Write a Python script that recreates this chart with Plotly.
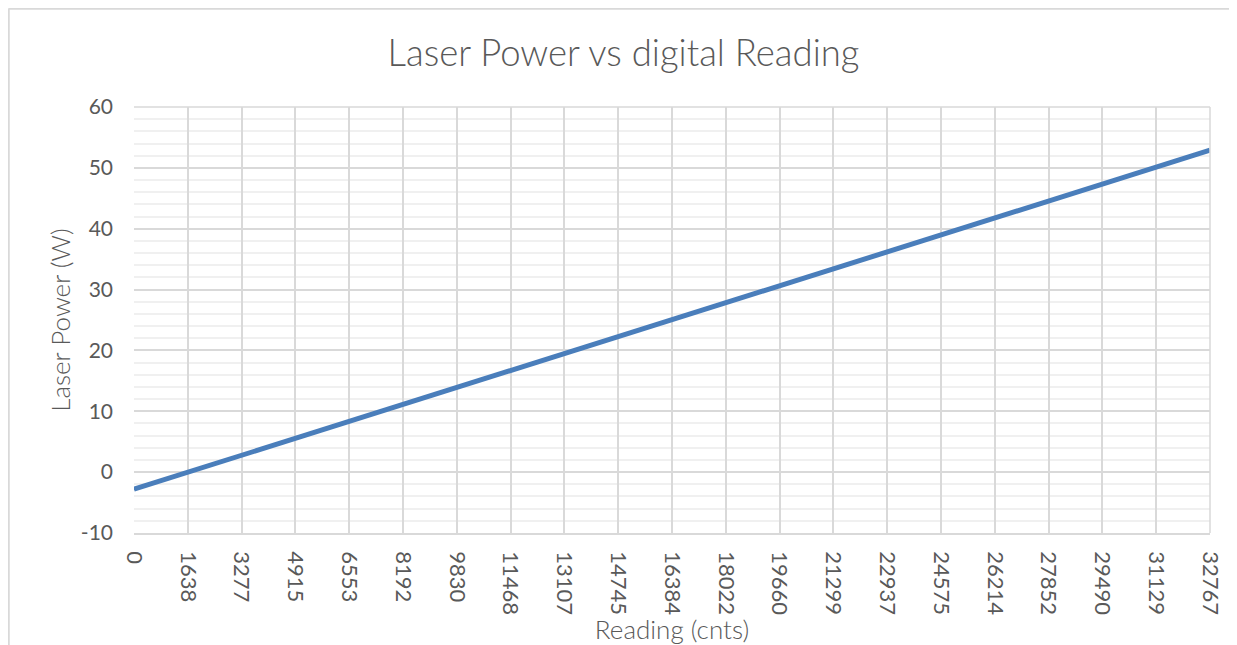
import plotly.graph_objects as go

reading = [0, 1638, 3277, 4915, 6553, 8192, 9830, 11468, 13107, 14745, 16384,
           18022, 19660, 21299, 22937, 24575, 26214, 27852, 29490, 31129, 32767]
power = [-2.8, -0.01, 2.77, 5.55, 8.34, 11.12, 13.91, 16.7, 19.48, 22.27, 25.05,
         27.84, 30.62, 33.41, 36.19, 38.98, 41.76, 44.55, 47.33, 50.12, 52.9]
tick_labels = [str(v) for v in reading]
y_ticks = [-10, 0, 10, 20, 30, 40, 50, 60]
y_labels = ["-10", "0", "10", "20", "30", "40", "50", "60"]

grey = "#595959"
font = "Lato, 'Open Sans', sans-serif"

# page has an 8px body margin: figure occupies page x 8..1237, y 8..645
W, H = 1229, 637
L, R, T, B = 126, 27, 99, 112
pw, ph = W - L - R, H - T - B

fig = go.Figure()
fig.add_trace(go.Scatter(x=reading, y=power, mode="lines",
                         line=dict(color="#4a7ebb", width=5), showlegend=False))

fig.update_layout(
    width=W, height=H,
    margin=dict(l=L, r=R, t=T, b=B, pad=0),
    paper_bgcolor="white", plot_bgcolor="white",
    font=dict(family=font, color=grey),
    title=dict(text="Laser Power vs digital Reading", x=(623.5 - 8 - L) / pw, xref="paper",
               xanchor="center", y=1 - (53 - 8) / H, yanchor="middle",
               font=dict(size=36.5, color=grey, family=font, weight=300)),
    xaxis=dict(range=[0, 32767], tickvals=reading, ticktext=tick_labels,
               tickangle=90, showgrid=True, gridcolor="#d9d9d9", gridwidth=1.5,
               showline=True, linecolor="#d9d9d9", linewidth=1.5, mirror=False,
               zeroline=False, ticks="", ticklabelstandoff=12,
               tickfont=dict(size=22, color=grey),
               title=dict(text="Reading (cnts)", font=dict(size=26, color=grey, weight=300),
                          standoff=0)),
    yaxis=dict(range=[-10, 60], tickvals=y_ticks, ticktext=y_labels,
               showgrid=True, gridcolor="#d9d9d9", gridwidth=1.5,
               zeroline=False, showline=False, ticks="", ticklabelstandoff=20,
               tickfont=dict(size=21, color=grey),
               minor=dict(tick0=0, dtick=2, showgrid=True, gridcolor="#f0f0f0", gridwidth=1.5),
               title=dict(text="Laser Power (W)", font=dict(size=26, color=grey, weight=300),
                          standoff=2)),
)

# chart area border (Excel style), left and top edges
bx = (-L + 0.5) / pw
by = 1 + (T - 0.5) / ph
fig.add_shape(type="line", xref="paper", yref="paper", x0=bx, x1=bx,
              y0=-B / ph, y1=by, line=dict(color="#d9d9d9", width=2.5))
fig.add_shape(type="line", xref="paper", yref="paper", x0=bx, x1=1 + R / pw,
              y0=by, y1=by, line=dict(color="#d9d9d9", width=2.5))
# plot area top and right borders
fig.add_shape(type="line", xref="paper", yref="paper", x0=0, x1=1, y0=1, y1=1,
              line=dict(color="#d9d9d9", width=1.5))
fig.add_shape(type="line", xref="paper", yref="paper", x0=1, x1=1, y0=0, y1=1,
              line=dict(color="#d9d9d9", width=1.5))

fig.write_html("out.html")
